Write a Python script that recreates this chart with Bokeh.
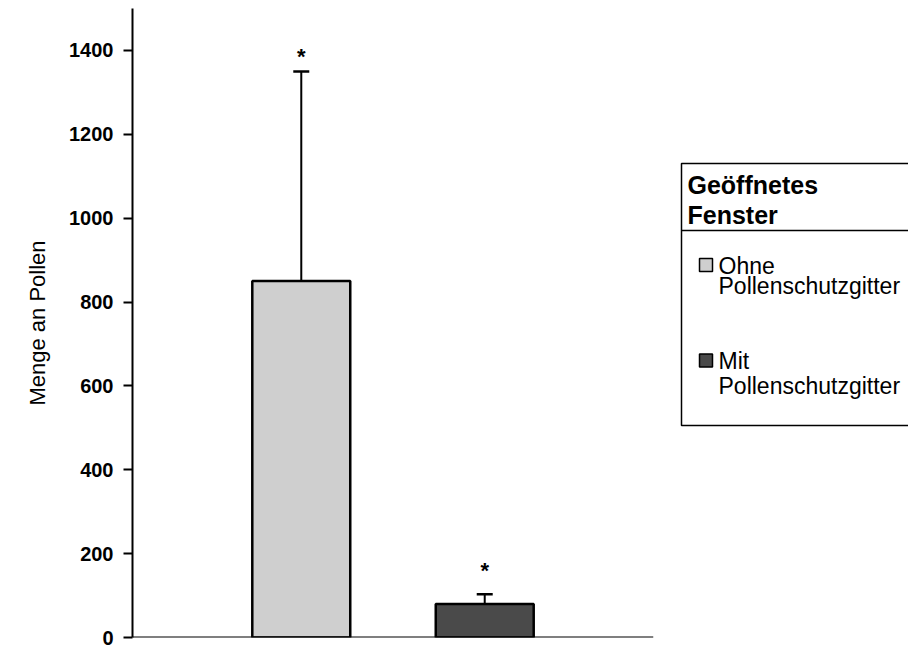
from bokeh.plotting import figure
from bokeh.models import FactorRange, Range1d, FixedTicker, Whisker, ColumnDataSource, TeeHead, Span
from bokeh.layouts import row
from bokeh.core.properties import value
from bokeh.embed import file_html
from bokeh.resources import INLINE

# ---- data ----
categories = ["Ohne Pollenschutzgitter", "Mit Pollenschutzgitter"]
means = [850, 80]
errors = [500, 23]
sig_marks = ["*", "*"]
sig_y = [1385, 160]
colors = ["#cfcfcf", "#4a4a4a"]
y_ticks = [0, 200, 400, 600, 800, 1000, 1200, 1400]
y_label = "Menge an Pollen"
legend_title = ["Geöffnetes", "Fenster"]
legend_lines = [["Ohne", "Pollenschutzgitter"], ["Mit", "Pollenschutzgitter"]]

FONT = "Liberation Sans"
TOP, BOTTOM = 8, 637   # frame top / bottom in page pixels

upper = [m + e for m, e in zip(means, errors)]
src = ColumnDataSource(dict(cat=categories, top=means, upper=upper, lower=means,
                            color=colors, star=sig_marks, sy=sig_y))

p = figure(width=655, height=648, x_range=FactorRange(factors=categories, range_padding=0.42),
           y_range=Range1d(0, 1500), output_backend="svg", toolbar_location=None,
           x_axis_location=None,
           min_border_left=132, min_border_right=2, min_border_top=TOP,
           min_border_bottom=648 - BOTTOM)
p.outline_line_color = None
p.xgrid.grid_line_color = None
p.ygrid.grid_line_color = None

p.vbar(x="cat", top="top", width=0.534, source=src, fill_color="color",
       line_color="black", line_width=2.5)

wh = Whisker(base="cat", upper="upper", lower="lower", source=src,
             line_color="black", line_width=2,
             upper_head=TeeHead(size=16, line_width=2.5, line_color="black"),
             lower_head=None)
p.add_layout(wh)

p.text(x="cat", y="sy", text="star", source=src, text_align="center",
       text_baseline="middle", text_font=value(FONT), text_font_size="22px",
       text_font_style="bold", text_color="black")

# x axis line (no category labels, as in the reference)
p.add_layout(Span(location=0, dimension="width", line_color="black", line_width=2))

# y axis
p.yaxis.ticker = FixedTicker(ticks=y_ticks)
p.yaxis.axis_line_width = 2
p.yaxis.axis_line_color = "black"
p.yaxis.major_tick_line_width = 2
p.yaxis.major_tick_out = 9
p.yaxis.major_tick_in = 0
p.yaxis.minor_tick_line_color = None
p.yaxis.major_label_standoff = 10
p.yaxis.major_label_text_font = FONT
p.yaxis.major_label_text_font_style = "bold"
p.yaxis.major_label_text_font_size = "20px"
p.yaxis.major_label_text_color = "black"
p.yaxis.axis_label = y_label
p.yaxis.axis_label_text_font = FONT
p.yaxis.axis_label_text_font_style = "normal"
p.yaxis.axis_label_text_font_size = "22px"
p.yaxis.axis_label_text_color = "black"
p.yaxis.axis_label_standoff = 16

# ---- legend panel (frame is aligned with the main frame; y in page pixels) ----
lg = figure(width=253, height=648, x_range=Range1d(0, 253), y_range=Range1d(BOTTOM, TOP),
            output_backend="svg", toolbar_location=None,
            x_axis_location=None, y_axis_location=None,
            min_border_left=0, min_border_right=0, min_border_top=TOP,
            min_border_bottom=648 - BOTTOM)
lg.grid.visible = False
lg.outline_line_color = None

lg.quad(left=[26], right=[300], top=[163], bottom=[425], fill_color=None,
        line_color="black", line_width=1.5)
lg.segment(x0=[26], y0=[230], x1=[300], y1=[230], line_color="black", line_width=1.5)
lg.text(x=[32, 32], y=[184, 214], text=legend_title, text_font=value(FONT),
        text_font_size="25px", text_font_style="bold", text_baseline="alphabetic",
        text_color="black")

sq_y = [264.5, 360]
line_y = [[265, 285], [360, 385]]
for i, lines in enumerate(legend_lines):
    lg.rect(x=[50.5], y=[sq_y[i]], width=13, height=13, width_units="screen",
            height_units="screen", fill_color=colors[i], line_color="black", line_width=1.5)
    lg.text(x=[63, 63], y=line_y[i], text=lines, text_font=value(FONT),
            text_font_size="23px", text_baseline="alphabetic", text_color="black")

layout = row(p, lg)
open("out.html", "w").write(file_html(layout, INLINE))
